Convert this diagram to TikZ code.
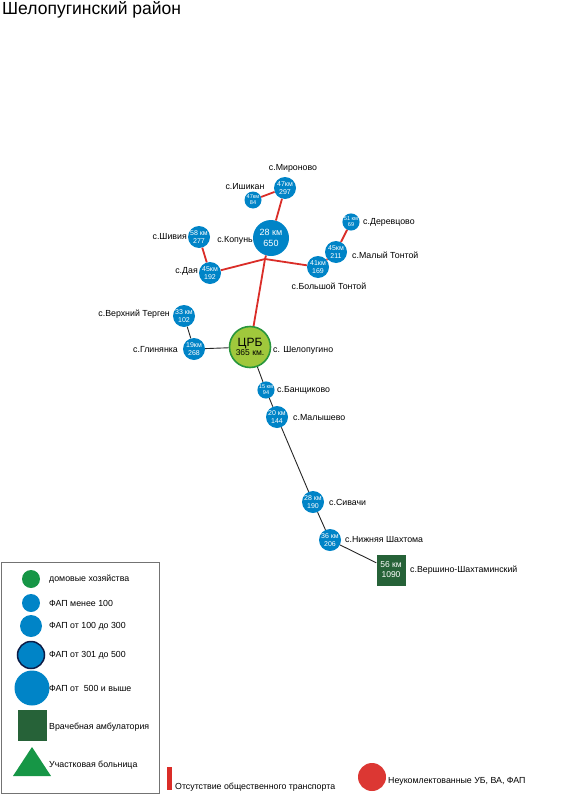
\documentclass[tikz,border=0pt]{standalone}
\usepackage{fontspec}
\setmainfont{Liberation Sans}
\definecolor{FAPBlue}{RGB}{0,132,199}
\definecolor{CRBGreen}{RGB}{160,200,60}
\definecolor{CRBEdge}{RGB}{40,150,60}
\definecolor{RoadRed}{RGB}{218,45,40}
\definecolor{AmbGreen}{RGB}{38,98,56}
\definecolor{HomeGreen}{RGB}{22,150,70}
\definecolor{EdgeNavy}{RGB}{12,28,70}
\usetikzlibrary{positioning,shapes.geometric}

\begin{document}
\begin{tikzpicture}[x=1pt,y=-1pt,
  fap/.style={circle,fill=FAPBlue,text=white,inner sep=0pt,align=center,minimum size=22pt,font=\fontsize{7}{7.4}\selectfont},
  fapS/.style={fap,minimum size=17pt,font=\fontsize{5.6}{6}\selectfont},
  fapL/.style={fap,minimum size=36pt,font=\fontsize{9}{10.5}\selectfont},
  amb/.style={rectangle,fill=AmbGreen,text=white,inner sep=0pt,align=center,minimum width=29pt,minimum height=31pt,font=\fontsize{8.5}{10}\selectfont},
  lab/.style={inner sep=0pt,font=\fontsize{8.8}{10}\selectfont},
  legtxt/.style={inner sep=0pt,anchor=west,font=\fontsize{8.8}{10}\selectfont},
  noroad/.style={draw=RoadRed,line width=1.8pt},
  road/.style={draw=black!85,line width=0.9pt}]
\useasboundingbox (0,0) rectangle (579,800);
\node[anchor=west,inner sep=0pt,font=\fontsize{17.5}{19}\selectfont] (title) at (2,10) {Шелопугинский район};

% Centre and villages
\node[circle,fill=CRBGreen,draw=CRBEdge,line width=1.6pt,minimum size=41pt,inner sep=0pt,align=center,font=\fontsize{8.5}{9.5}\selectfont] (crb) at (250,347) {{\fontsize{12}{13}\selectfont ЦРБ}\\365 км.};
\node[fapL] (kop) at (271,238) {28 км\\650};
\node[fap] (mir) at (285,188) {47км\\297};
\node[fapS] (ish) at (253,200) {47км\\84};
\node[fap] (shiv) at (199,237) {58 км\\277};
\node[fap] (daya) at (210,273) {45км\\192};
\node[fapS] (der) at (351,222) {51 км\\69};
\node[fap] (mton) at (336,252) {45км\\211};
\node[fap] (bton) at (318,267) {41км\\169};
\node[fap] (vter) at (184,316) {33 км\\102};
\node[fap] (glin) at (194,349) {19км\\268};
\node[fapS] (ban) at (266,390) {15 км\\94};
\node[fap] (maly) at (277,417) {20 км\\144};
\node[fap] (siv) at (313,502) {28 км\\190};
\node[fap] (nsh) at (330,540) {36 км\\206};
\node[amb] (vsh) at (391,570) {56 км\\1090};
\coordinate (jn) at (265,259);

% Names
\node[lab] (mirl) at (293,168) {с.Мироново};
\node[lab] (ishl) at (245,187) {с.Ишикан};
\node[lab,anchor=east] (shivl) at (187,237) {с.Шивия};
\node[lab,anchor=east] (kopl) at (253,240) {с.Копунь};
\node[lab,anchor=east] (dayal) at (198,271) {с.Дая};
\node[lab,anchor=west] (derl) at (363,222) {с.Деревцово};
\node[lab,anchor=west] (mtonl) at (352,255) {с.Малый Тонтой};
\node[lab] (btonl) at (329,286) {с.Большой Тонтой};
\node[lab,anchor=east] (vterl) at (170,314) {с.Верхний Терген};
\node[lab,anchor=east] (glinl) at (178,350) {с.Глинянка};
\node[lab,anchor=west] (crbl) at (273,350) {с. Шелопугино};
\node[lab,anchor=west] (banl) at (277,390) {с.Банщиково};
\node[lab,anchor=west] (malyl) at (293,418) {с.Малышево};
\node[lab,anchor=west] (sivl) at (329,502) {с.Сивачи};
\node[lab,anchor=west] (nshl) at (345,540) {с.Нижняя Шахтома};
\node[lab,anchor=west] (vshl) at (410,570) {с.Вершино-Шахтаминский};

% Roads without transport
\draw[noroad] (kop) -- (jn) -- (crb);
\draw[noroad] (daya) -- (jn) -- (bton);
\draw[noroad] (ish) -- (mir);
\draw[noroad] (mir) -- (kop);
\draw[noroad] (shiv) -- (daya);
\draw[noroad] (der) -- (mton);
\draw[noroad] (mton) -- (bton);
% Other roads
\draw[road] (crb) -- (glin);
\draw[road] (glin) -- (vter);
\draw[road] (crb) -- (ban);
\draw[road] (ban) -- (maly);
\draw[road] (maly) -- (siv);
\draw[road] (siv) -- (nsh);
\draw[road] (nsh) -- (vsh);

% Legend
\draw[black!55,line width=0.6pt] (1,562) rectangle (159,793);
\node[circle,fill=HomeGreen,minimum size=18pt,inner sep=0pt] (lg1) at (31,579) {};
\node[fap,minimum size=18pt] (lg2) at (31,603) {};
\node[fap,minimum size=22pt] (lg3) at (31,626) {};
\node[fap,minimum size=27pt,draw=EdgeNavy,line width=1.5pt] (lg4) at (31,655) {};
\node[fap,minimum size=35pt] (lg5) at (32,688) {};
\node[amb] (lg6) at (32,725) {};
\fill[HomeGreen] (32,747) -- (51,776) -- (13,776) -- cycle;
\node[legtxt] (lt1) at (49,579) {домовые хозяйства};
\node[legtxt] (lt2) at (49,603) {ФАП менее 100};
\node[legtxt] (lt3) at (49,626) {ФАП от 100 до 300};
\node[legtxt] (lt4) at (49,655) {ФАП от 301 до 500};
\node[legtxt] (lt5) at (49,688) {ФАП от\ \ 500 и выше};
\node[legtxt] (lt6) at (49,727) {Врачебная амбулатория};
\node[legtxt] (lt7) at (49,765) {Участковая больница};
\fill[RoadRed] (167,767) rectangle (172,790);
\node[legtxt] (lt8) at (175,787) {Отсутствие общественного транспорта};
\node[circle,fill=RoadRed!95!white,minimum size=28pt,inner sep=0pt] (lg9) at (372,777) {};
\node[legtxt] (lt9) at (388,781) {Неукомлектованные УБ, ВА, ФАП};
\end{tikzpicture}
\end{document}
